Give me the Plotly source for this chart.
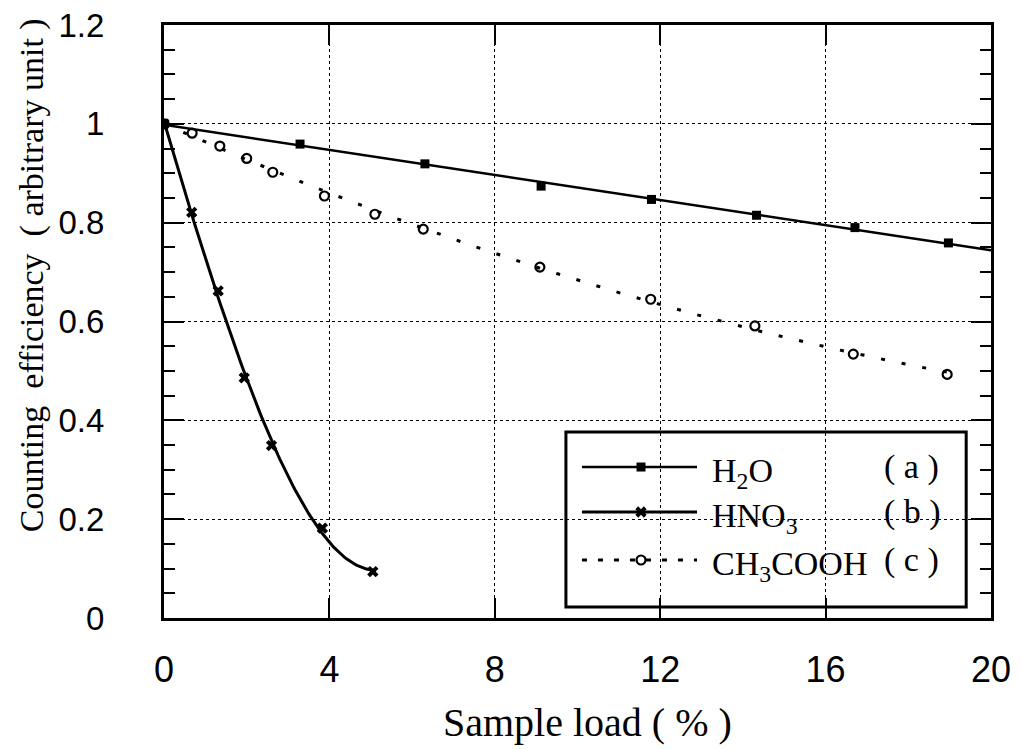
import numpy as np
import plotly.graph_objects as go

# ---------------- data ----------------
h2o_x = [0.0, 3.29, 6.31, 9.12, 11.79, 14.33, 16.71, 18.97]
h2o_y = [1.0, 0.959, 0.919, 0.874, 0.847, 0.815, 0.790, 0.759]

hno3_x = [0.0, 0.67, 1.31, 1.94, 2.60, 3.83, 5.05]
hno3_y = [1.0, 0.821, 0.662, 0.486, 0.349, 0.182, 0.094]

ac_x = [0.0, 0.68, 1.35, 2.00, 2.63, 3.88, 5.10, 6.27, 9.09, 11.77, 14.29, 16.67, 18.94]
ac_y = [1.0, 0.981, 0.955, 0.930, 0.902, 0.854, 0.817, 0.787, 0.710, 0.645, 0.591, 0.534, 0.493]

x_ticks = [0, 4, 8, 12, 16, 20]
y_ticks = [0, 0.2, 0.4, 0.6, 0.8, 1.0, 1.2]
y_tick_labels = ["0", "0.2", "0.4", "0.6", "0.8", "1", "1.2"]

series_names = ["H<sub>2</sub>O", "HNO<sub>3</sub>", "CH<sub>3</sub>COOH"]
series_tags = ["( a )", "( b )", "( c )"]

x_title = "Sample load ( % )"
y_title = "Counting  efficiency  ( arbitrary unit )"

# ---------------- styling ----------------
SERIF = "Liberation Serif, Times New Roman, serif"
SANS = "Liberation Sans, Arial, sans-serif"
BLACK = "black"
AC_DASH = "4px,17px"

# fitted lines
h2o_fit = np.polyfit(h2o_x, h2o_y, 1)
h2o_line_x = np.array([0.0, 20.0])
h2o_line_y = np.polyval(h2o_fit, h2o_line_x)

hno3_fit = np.polyfit(hno3_x, hno3_y, 3)
hno3_line_x = np.linspace(0.0, max(hno3_x), 120)
hno3_line_y = np.polyval(hno3_fit, hno3_line_x)

ac_fit = np.polyfit(ac_x, ac_y, 2)
ac_line_x = np.linspace(0.0, max(ac_x), 120)
ac_line_y = np.polyval(ac_fit, ac_line_x)

fig = go.Figure()

# H2O
fig.add_trace(go.Scatter(x=h2o_line_x, y=h2o_line_y, mode="lines",
                         line=dict(color=BLACK, width=2.5), showlegend=False, hoverinfo="skip"))
fig.add_trace(go.Scatter(x=h2o_x, y=h2o_y, mode="markers",
                         marker=dict(symbol="square", size=9, color=BLACK), showlegend=False))
# HNO3
fig.add_trace(go.Scatter(x=hno3_line_x, y=hno3_line_y, mode="lines",
                         line=dict(color=BLACK, width=3), showlegend=False, hoverinfo="skip"))
fig.add_trace(go.Scatter(x=hno3_x, y=hno3_y, mode="markers",
                         marker=dict(symbol="x", size=10, color=BLACK), showlegend=False))
# CH3COOH
fig.add_trace(go.Scatter(x=ac_line_x, y=ac_line_y, mode="lines",
                         line=dict(color=BLACK, width=3, dash=AC_DASH), showlegend=False, hoverinfo="skip"))
fig.add_trace(go.Scatter(x=ac_x, y=ac_y, mode="markers",
                         marker=dict(symbol="circle-open", size=9, color=BLACK, line=dict(width=2.2)),
                         showlegend=False))

# ---------------- custom legend (overlay axis in [0,1] x [0,1]) ----------------
LEG_LINE_X0, LEG_LINE_X1, LEG_MARK_X = 0.5054, 0.6445, 0.5768
LEG_ROWS_Y = [0.2546, 0.1788, 0.0978]
LEG_TEXT_X = 0.660
LEG_TAG_X = 0.868
legend_styles = [
    dict(line=dict(color=BLACK, width=2.5), marker=dict(symbol="square", size=9, color=BLACK)),
    dict(line=dict(color=BLACK, width=3), marker=dict(symbol="x", size=10, color=BLACK)),
    dict(line=dict(color=BLACK, width=3, dash="5px,11px"),
         marker=dict(symbol="circle-open", size=9, color=BLACK, line=dict(width=2.2))),
]
for ry, st in zip(LEG_ROWS_Y, legend_styles):
    fig.add_trace(go.Scatter(x=[LEG_LINE_X0, LEG_LINE_X1], y=[ry, ry], mode="lines",
                             line=st["line"], xaxis="x2", yaxis="y2",
                             showlegend=False, hoverinfo="skip"))
    fig.add_trace(go.Scatter(x=[LEG_MARK_X], y=[ry], mode="markers",
                             marker=st["marker"], xaxis="x2", yaxis="y2",
                             showlegend=False, hoverinfo="skip"))

annotations = []
for ry, name, tag in zip(LEG_ROWS_Y, series_names, series_tags):
    annotations.append(dict(x=LEG_TEXT_X, y=ry, xref="paper", yref="paper", text=name,
                            showarrow=False, xanchor="left", yanchor="middle", yshift=-6,
                            font=dict(family=SERIF, size=34, color=BLACK)))
    annotations.append(dict(x=LEG_TAG_X, y=ry, xref="paper", yref="paper", text=tag,
                            showarrow=False, xanchor="left", yanchor="middle",
                            font=dict(family=SERIF, size=34, color=BLACK)))

annotations.append(dict(x=0.5115, y=-0.176, xref="paper", yref="paper", text=x_title,
                        showarrow=False, xanchor="center", yanchor="middle",
                        font=dict(family=SERIF, size=40, color=BLACK)))
annotations.append(dict(x=-0.1596, y=0.578, xref="paper", yref="paper", text=y_title,
                        showarrow=False, xanchor="center", yanchor="middle", textangle=-90,
                        font=dict(family=SERIF, size=34, color=BLACK)))

shapes = [dict(type="rect", xref="paper", yref="paper", x0=0.486, x1=0.970, y0=0.0186, y1=0.3137,
               line=dict(color=BLACK, width=3), fillcolor="white", layer="between")]

fig.update_layout(
    width=1022, height=749,
    margin=dict(l=156, r=39, t=17, b=139, autoexpand=False),
    paper_bgcolor="white", plot_bgcolor="white",
    showlegend=False,
    annotations=annotations,
    shapes=shapes,
    xaxis=dict(range=[0, 20], tickvals=x_ticks, ticktext=[str(v) for v in x_ticks],
               ticks="inside", ticklen=20, tickwidth=2, tickcolor=BLACK,
               showline=True, linecolor=BLACK, linewidth=3, mirror="ticks",
               showgrid=True, gridcolor=BLACK, gridwidth=1.3, griddash="dot",
               zeroline=False, ticklabelstandoff=18, ticklabeloverflow="allow",
               automargin=False,
               tickfont=dict(family=SANS, size=36, color=BLACK)),
    yaxis=dict(range=[0, 1.2], tickvals=y_ticks, ticktext=y_tick_labels,
               ticks="inside", ticklen=20, tickwidth=2, tickcolor=BLACK,
               minor=dict(dtick=0.05, ticks="inside", ticklen=11, tickwidth=2, tickcolor=BLACK, showgrid=False),
               showline=True, linecolor=BLACK, linewidth=3, mirror="ticks",
               showgrid=True, gridcolor=BLACK, gridwidth=1.3, griddash="dot",
               zeroline=False, ticklabelstandoff=50, ticklabeloverflow="allow",
               automargin=False,
               tickfont=dict(family=SANS, size=33, color=BLACK)),
    xaxis2=dict(range=[0, 1], overlaying="x", visible=False, anchor="y2"),
    yaxis2=dict(range=[0, 1], overlaying="y", visible=False, anchor="x2"),
)

fig.write_html("out.html")
